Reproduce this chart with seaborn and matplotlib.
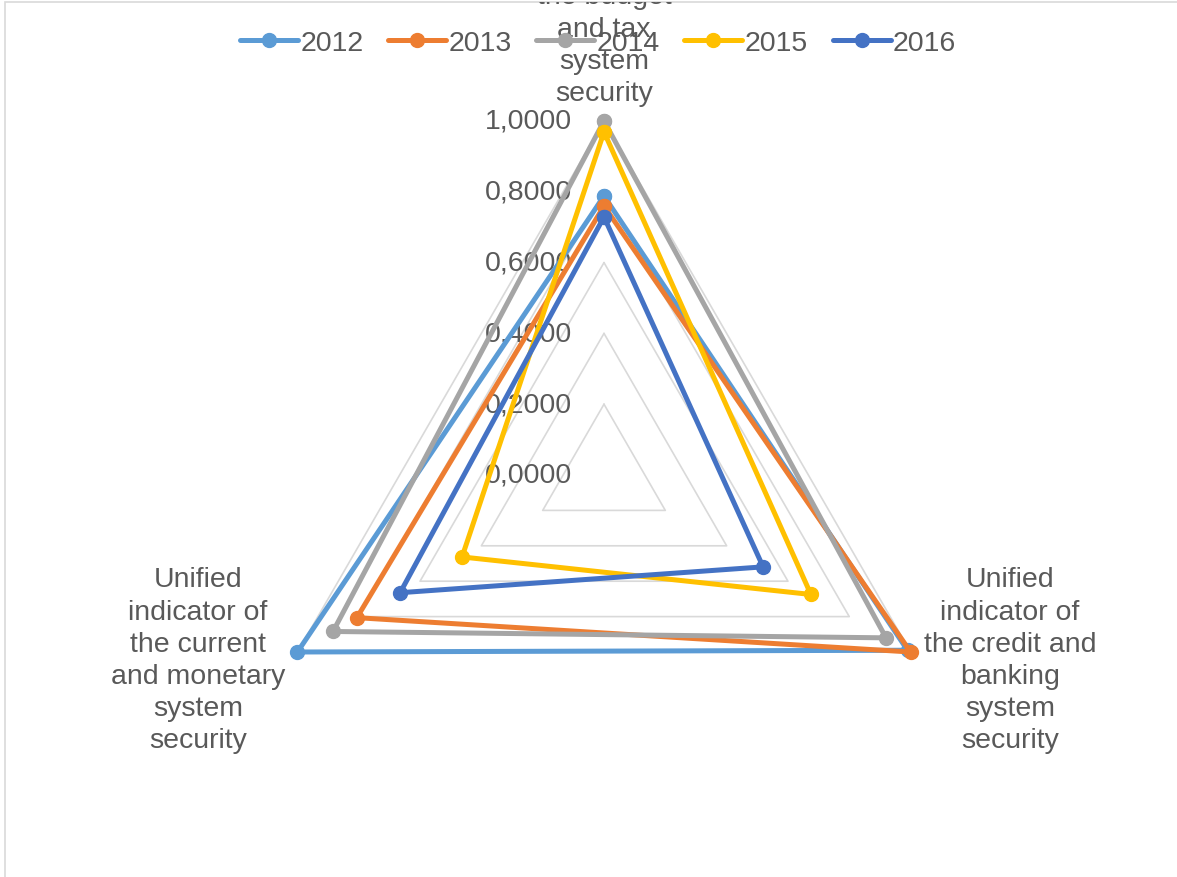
import numpy as np
import pandas as pd
import seaborn as sns
import matplotlib
matplotlib.use("Agg")
import matplotlib.pyplot as plt
from matplotlib.patches import Rectangle

# data
axes_labels = ["Unified\nindicator of\nthe budget\nand tax\nsystem\nsecurity",
               "Unified\nindicator of\nthe credit and\nbanking\nsystem\nsecurity",
               "Unified\nindicator of\nthe current\nand monetary\nsystem\nsecurity"]
years = ["2012", "2013", "2014", "2015", "2016"]
budget_tax = [0.788, 0.760, 1.000, 0.969, 0.729]
credit_banking = [0.990, 1.000, 0.920, 0.675, 0.519]
current_monetary = [1.000, 0.806, 0.884, 0.463, 0.665]
r_ticks = [0.0, 0.2, 0.4, 0.6, 0.8, 1.0]
r_tick_labels = ["0,0000", "0,2000", "0,4000", "0,6000", "0,8000", "1,0000"]
colors = ["#5B9BD5", "#ED7D31", "#A5A5A5", "#FFC000", "#4472C4"]

df = pd.DataFrame({"year": years, "budget_tax": budget_tax,
                   "credit_banking": credit_banking,
                   "current_monetary": current_monetary})

sns.set_style("white")
plt.rcParams["font.family"] = ["Liberation Sans", "DejaVu Sans"]
text_col = "#595959"
fs = 20.5

W, H = 1177, 878
fig = plt.figure(figsize=(W / 100, H / 100), dpi=100)
cx, cy, R = 604, 476, 354
ax = fig.add_axes([(cx - R) / W, (H - cy - R) / H, 2 * R / W, 2 * R / H],
                  projection="polar")
ax.set_theta_offset(np.pi / 2)
ax.set_theta_direction(-1)
ax.set_ylim(0, 1)
ax.grid(False)
ax.spines["polar"].set_visible(False)
ax.set_xticks([])
ax.set_yticks([])
ax.patch.set_alpha(0)

angles = np.deg2rad([0, 120, 240, 0])

# triangular grid
for r in r_ticks[1:]:
    ax.plot(angles, [r] * 4, color="#D9D9D9", lw=1.2, zorder=1)

for r, lab in zip(r_ticks, r_tick_labels):
    ax.annotate(lab, xy=(0, r), xytext=(-32, 0), textcoords="offset pixels",
                ha="right", va="center", fontsize=fs, color=text_col,
                annotation_clip=False, zorder=2)

for i, row in df.iterrows():
    vals = [row["budget_tax"], row["credit_banking"], row["current_monetary"],
            row["budget_tax"]]
    ax.plot(angles, vals, color=colors[i], lw=3.6, marker="o", ms=10,
            label=row["year"], zorder=3 + i, clip_on=False)

# chart area (its top edge crops the top label as in the reference)
area = Rectangle((5 / W, -0.1), 1.2, 1.1 - 3 / H,
                 transform=fig.transFigure, fill=False,
                 edgecolor="#D9D9D9", lw=1.2)
fig.patches.append(area)

# category labels
ls = 1.31
top = fig.text(604 / W, 1 - 107 / H, axes_labels[0], ha="center", va="bottom",
               fontsize=fs, color=text_col, linespacing=ls)
top.set_clip_path(area)
fig.text(1010 / W, 1 - 661 / H, axes_labels[1], ha="center", va="center",
         fontsize=fs, color=text_col, linespacing=ls)
fig.text(198 / W, 1 - 661 / H, axes_labels[2], ha="center", va="center",
         fontsize=fs, color=text_col, linespacing=ls)

leg = fig.legend(loc="center", bbox_to_anchor=(598 / W, 1 - 44 / H), ncol=5,
                 frameon=False, fontsize=fs, handlelength=2.04,
                 handletextpad=0.085, columnspacing=0.86)
for t in leg.get_texts():
    t.set_color(text_col)

fig.savefig("out.png", dpi=100)
